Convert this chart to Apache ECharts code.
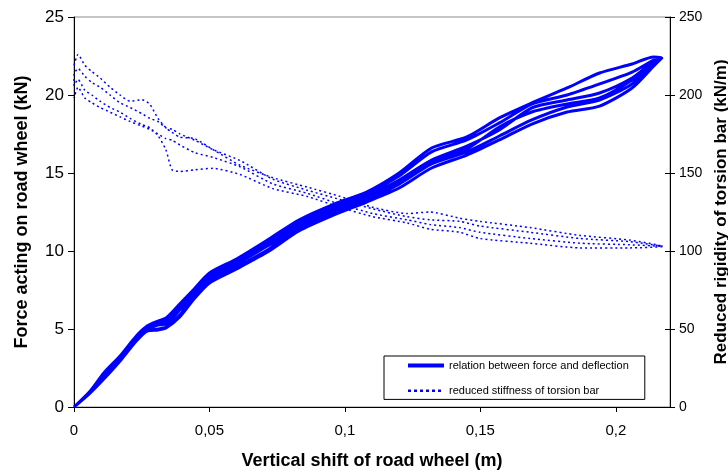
<!DOCTYPE html>
<html><head><meta charset="utf-8">
<script src="https://cdn.jsdelivr.net/npm/echarts@6/dist/echarts.min.js"></script>
<style>html,body{margin:0;padding:0;background:#fff}#c{width:728px;height:470px}</style>
</head><body><div id="c"></div>
<script>
// ---- data ----
const xTicks = [0, 0.05, 0.1, 0.15, 0.2];
const forceTicks = [0, 5, 10, 15, 20, 25];
const stiffTicks = [0, 50, 100, 150, 200, 250];

// vertical shift of road wheel (m) for force paths
const forceDeflection = [0, 0.006, 0.011, 0.017, 0.023, 0.027, 0.031, 0.034, 0.039, 0.044, 0.05, 0.06, 0.072, 0.083, 0.096, 0.108, 0.12, 0.132, 0.145, 0.157, 0.169, 0.182, 0.194, 0.206, 0.214, 0.217];
// force acting on road wheel (kN), loading / unloading passes
const forceLoad1   = [0, 1.03, 2.18, 3.27, 4.55, 5.19, 5.51, 5.71, 6.60, 7.50, 8.59, 9.49, 10.77, 11.99, 13.01, 13.78, 15.00, 16.60, 17.31, 18.53, 19.49, 20.45, 21.41, 21.99, 22.44, 22.37];
const forceUnload1 = [0, 0.90, 1.86, 3.01, 4.29, 4.94, 5.00, 5.13, 5.90, 6.99, 8.08, 8.97, 10.13, 11.41, 12.44, 13.27, 14.29, 15.58, 16.35, 17.37, 18.40, 19.23, 19.68, 20.71, 21.99, 22.37];
const forceLoad2   = [0, 0.96, 2.05, 3.14, 4.42, 5.13, 5.38, 5.58, 6.47, 7.37, 8.46, 9.36, 10.58, 11.79, 12.82, 13.65, 14.81, 16.35, 17.12, 18.21, 19.42, 20.00, 20.71, 21.47, 22.24, 22.37];
const forceUnload2 = [0, 0.90, 1.79, 2.95, 4.23, 4.87, 4.94, 5.06, 5.77, 6.86, 7.95, 8.85, 10.00, 11.28, 12.31, 13.14, 14.04, 15.32, 16.15, 17.12, 18.14, 18.91, 19.29, 20.45, 21.86, 22.37];
const forceLoad3   = [0, 0.96, 1.99, 3.08, 4.36, 5.00, 5.26, 5.32, 6.22, 7.18, 8.27, 9.17, 10.38, 11.60, 12.63, 13.46, 14.55, 15.83, 16.73, 17.76, 19.17, 19.68, 20.13, 21.09, 22.18, 22.37];
const forceUnload3 = [0, 0.96, 1.99, 3.14, 4.36, 5.06, 5.26, 5.45, 6.35, 7.31, 8.33, 9.23, 10.45, 11.67, 12.69, 13.53, 14.42, 15.71, 16.54, 17.95, 18.91, 19.42, 19.81, 20.96, 22.12, 22.37];

// vertical shift (m) for stiffness paths
const stiffDeflection = [0, 0.0015, 0.004, 0.0066, 0.0096, 0.0133, 0.017, 0.0207, 0.0251, 0.028, 0.031, 0.0339, 0.0362, 0.0391, 0.0446, 0.0513, 0.0613, 0.0734, 0.086, 0.0982, 0.1103, 0.1229, 0.1314, 0.1424, 0.1498, 0.1683, 0.1867, 0.2052, 0.2173];
// reduced stiffness of torsion bar (kN/m)
const stiffLoad1   = [219, 226, 219, 215, 211, 205, 200, 196, 197, 194, 185, 179, 176, 173, 172, 165, 155, 147, 141, 135, 128, 124, 125, 121, 119, 115, 110, 107, 103];
const stiffUnload1 = [206, 210, 203, 200, 196, 192, 189, 185, 181, 179, 174, 165, 152, 151, 152, 153, 149, 140, 135, 128, 122, 118, 114, 112, 108, 105, 102, 102, 103];
const stiffLoad2   = [213, 217, 212, 208, 205, 200, 195, 192, 188, 185, 183, 179, 178, 175, 171, 165, 158, 146, 139, 133, 127, 122, 120, 119, 116, 112, 108, 106, 103];
const stiffUnload2 = [198, 205, 198, 195, 192, 189, 186, 183, 180, 178, 175, 172, 171, 168, 163, 160, 154, 143, 137, 130, 124, 120, 117, 115, 112, 108, 105, 104, 103];

const nameForce = 'relation between force and deflection';
const nameStiff = 'reduced stiffness of torsion bar';

function pairs(xs, ys, rev) {
  const out = xs.map((x, i) => [x, ys[i]]);
  return rev ? out.reverse() : out;
}
const forceData = [].concat(
  pairs(forceDeflection, forceLoad1), pairs(forceDeflection, forceUnload1, true),
  pairs(forceDeflection, forceLoad2), pairs(forceDeflection, forceUnload2, true),
  pairs(forceDeflection, forceLoad3), pairs(forceDeflection, forceUnload3, true));
const stiffData = [].concat(
  pairs(stiffDeflection, stiffLoad1), pairs(stiffDeflection, stiffUnload1, true),
  pairs(stiffDeflection, stiffLoad2), pairs(stiffDeflection, stiffUnload2, true));

const font = '"Liberation Sans", Arial, sans-serif';
const chart = echarts.init(document.getElementById('c'), null, {renderer: 'canvas'});
const fmtX = v => {
  const hit = xTicks.find(t => Math.abs(t - v) < 1e-9);
  return hit === undefined ? '' : String(hit).replace('.', ',');
};
chart.setOption({
  animation: false,
  backgroundColor: '#fff',
  textStyle: {fontFamily: font},
  grid: {left: 74, right: 58, top: 17, bottom: 63, outerBoundsMode: 'none', containLabel: false,
         show: true, borderColor: '#8c8c8c', borderWidth: 1, backgroundColor: '#fff'},
  legend: {
    orient: 'vertical', left: 384, top: 356,
    padding: [4, 16, 3, 22], itemWidth: 36, itemHeight: 14, itemGap: 14,
    backgroundColor: '#fff', borderColor: '#000', borderWidth: 1, borderRadius: 0,
    textStyle: {fontSize: 11, color: '#000', fontFamily: font},
    data: [
      {name: nameForce, lineStyle: {width: 4, color: '#0000ff'}, itemStyle: {opacity: 0}},
      {name: nameStiff, lineStyle: {width: 2.5, type: [3, 3], color: '#0000ff'}, itemStyle: {opacity: 0}}
    ]
  },
  xAxis: {
    type: 'value', min: xTicks[0], max: 0.22, interval: 0.05,
    axisLine: {lineStyle: {color: '#000', width: 1}},
    axisTick: {length: 5, lineStyle: {color: '#000'}},
    axisLabel: {formatter: fmtX, color: '#000', fontSize: 15, margin: 16, showMaxLabel: false},
    splitLine: {show: false},
    name: 'Vertical shift of road wheel (m)', nameLocation: 'middle', nameGap: 45,
    nameTextStyle: {fontWeight: 'bold', fontSize: 18, color: '#000'}
  },
  yAxis: [
    {
      type: 'value', position: 'left', min: forceTicks[0], max: forceTicks[forceTicks.length - 1], interval: 5,
      axisLine: {show: true, lineStyle: {color: '#000'}},
      axisTick: {show: true, length: 6, lineStyle: {color: '#000'}},
      axisLabel: {color: '#000', fontSize: 17, margin: 10},
      splitLine: {show: false},
      name: 'Force acting on road wheel (kN)', nameLocation: 'middle', nameGap: 43, nameRotate: 90,
      nameTextStyle: {fontWeight: 'bold', fontSize: 18, color: '#000'}
    },
    {
      type: 'value', position: 'right', min: stiffTicks[0], max: stiffTicks[stiffTicks.length - 1], interval: 50,
      axisLine: {show: true, lineStyle: {color: '#000'}},
      axisTick: {show: true, length: 5, lineStyle: {color: '#000'}},
      axisLabel: {color: '#000', fontSize: 14, margin: 9},
      splitLine: {show: false},
      name: 'Reduced rigidity of torsion bar (kN/m)', nameLocation: 'middle', nameGap: 38, nameRotate: 90,
      nameTextStyle: {fontWeight: 'bold', fontSize: 17, color: '#000'}
    },
    {
      type: 'value', position: 'right', min: stiffTicks[0], max: stiffTicks[stiffTicks.length - 1], interval: 50,
      axisLine: {show: false},
      axisTick: {show: true, inside: true, length: 5, lineStyle: {color: '#000'}},
      axisLabel: {show: false}, splitLine: {show: false}
    }
  ],
  series: [
    {
      name: nameStiff, type: 'line', yAxisIndex: 1, data: stiffData,
      symbol: 'none', showSymbol: false, smooth: 0.2,
      lineStyle: {color: '#0000ff', width: 1.5, type: [2, 3]}, itemStyle: {color: '#0000ff'}
    },
    {
      name: nameForce, type: 'line', yAxisIndex: 0, data: forceData,
      symbol: 'none', showSymbol: false, smooth: 0.25,
      lineStyle: {color: '#0000ff', width: 3}, itemStyle: {color: '#0000ff'}
    }
  ]
});
</script></body></html>
